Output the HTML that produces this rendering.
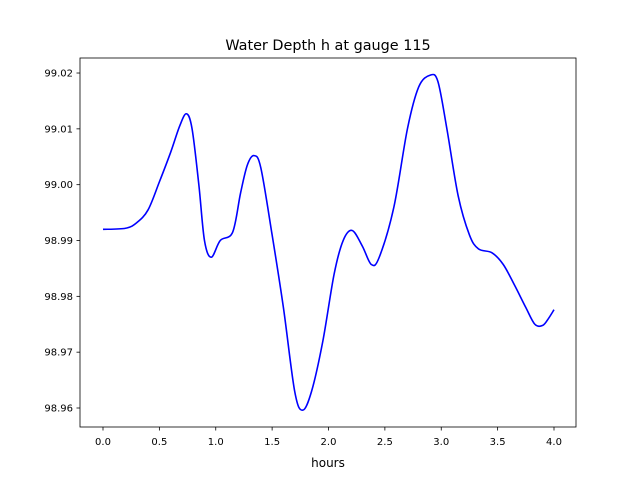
<!DOCTYPE html>
<html><head><meta charset="utf-8"><style>
body{margin:0;background:#fff;font-family:"Liberation Sans","DejaVu Sans",sans-serif}
text{font-family:"DejaVu Sans","Liberation Sans",sans-serif}
</style></head><body>
<svg id="chart" width="640" height="480" xmlns="http://www.w3.org/2000/svg">
<rect width="640" height="480" fill="#fff"/>
<text x="328" y="50" text-anchor="middle" font-size="14.4">Water Depth h at gauge 115</text>
<g id="ticks"></g>
<path id="line" fill="none" stroke="#0000ff" stroke-width="1.6"/>
<rect x="80" y="58" width="496" height="369" fill="none" stroke="#000" stroke-width="0.8"/>
<text x="328" y="467" text-anchor="middle" font-size="12">hours</text>
</svg>
<script>
const times=[0,0.2,0.3,0.4,0.5,0.6,0.68,0.74,0.79,0.85,0.9,0.96,1.04,1.15,1.22,1.28,1.34,1.4,1.5,1.6,1.7,1.77,1.85,1.95,2.05,2.13,2.21,2.3,2.38,2.45,2.58,2.7,2.8,2.9,2.97,3.05,3.15,3.25,3.33,3.45,3.55,3.65,3.75,3.83,3.9,3.95,4.0];
const depths=[98.992,98.9922,98.9932,98.9955,99.0005,99.0058,99.0105,99.0127,99.010,99.000,98.990,98.987,98.990,98.9915,98.9985,99.0035,99.0052,99.003,98.991,98.978,98.963,98.9596,98.963,98.972,98.984,98.990,98.9918,98.989,98.9857,98.987,98.996,99.010,99.0175,99.0196,99.0185,99.010,98.998,98.991,98.9885,98.9878,98.9857,98.982,98.978,98.975,98.9748,98.976,98.9776];
const xTicks=[0,0.5,1,1.5,2,2.5,3,3.5,4];
const xTickLabels=["0.0","0.5","1.0","1.5","2.0","2.5","3.0","3.5","4.0"];
const yTicks=[98.96,98.97,98.98,98.99,99.00,99.01,99.02];
const yTickLabels=["98.96","98.97","98.98","98.99","99.00","99.01","99.02"];
const sx=t=>103+t*112.75;
const sy=v=>408-(v-98.96)/0.01*55.83;
const NS="http://www.w3.org/2000/svg";
const g=document.getElementById('ticks');
function mk(tag,a){const e=document.createElementNS(NS,tag);for(const k in a)e.setAttribute(k,a[k]);g.appendChild(e);return e;}
xTicks.forEach((t,i)=>{const x=sx(t);
 const l=mk('line',{x1:x,x2:x,y1:427,y2:430.5,stroke:'#000','stroke-width':0.8});
 
 
 const tx=mk('text',{x:x,y:445,'text-anchor':'middle','font-size':10});
 tx.textContent=xTickLabels[i];
 
 
});
yTicks.forEach((v,i)=>{const y=sy(v);
 const l=mk('line',{x1:76.5,x2:80,y1:y,y2:y,stroke:'#000','stroke-width':0.8});
 
 
 const tx=mk('text',{x:73,y:y+3.5,'text-anchor':'end','font-size':10});
 tx.textContent=yTickLabels[i];
 
 
});
const P=times.map((t,i)=>[sx(t),sy(depths[i])]);
let d='M'+P[0][0]+','+P[0][1];
for(let i=0;i<P.length-1;i++){
 const p0=P[Math.max(0,i-1)],p1=P[i],p2=P[i+1],p3=P[Math.min(P.length-1,i+2)];
 const c1=[p1[0]+(p2[0]-p0[0])/6,p1[1]+(p2[1]-p0[1])/6];
 const c2=[p2[0]-(p3[0]-p1[0])/6,p2[1]-(p3[1]-p1[1])/6];
 d+=' C'+c1[0]+','+c1[1]+' '+c2[0]+','+c2[1]+' '+p2[0]+','+p2[1];
}
document.getElementById('line').setAttribute('d',d);
</script>
</body></html>
